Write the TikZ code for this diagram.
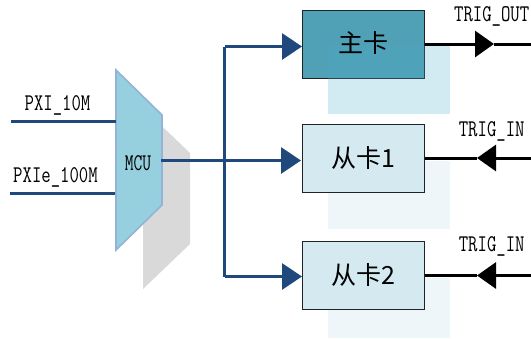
\documentclass[tikz,border=0pt]{standalone}
\usepackage{fontspec}
\usetikzlibrary{arrows.meta}
\newfontfamily\cjk{Noto Sans CJK SC}
\definecolor{navy}{HTML}{1F497D}
\definecolor{mcufill}{HTML}{96CFDE}
\definecolor{mcuedge}{HTML}{95B3D7}
\definecolor{teal}{HTML}{4BACC6}
\definecolor{mainfill}{HTML}{50A0B6}
\definecolor{subfill}{HTML}{D4E9F0}
\definecolor{ghostlight}{HTML}{EEF6F9}
\definecolor{edge}{HTML}{1C2426}
\tikzset{
 x=1pt,y=-1pt,
 card/.style={draw=edge,line width=1pt,minimum width=122pt,minimum height=68pt,inner sep=0pt},
 cardlabel/.style={font=\cjk\fontsize{25}{25}\selectfont,inner sep=0pt},
 siglabel/.style={font=\ttfamily\fontsize{24}{24}\selectfont,xscale=.76,inner sep=0pt,anchor=center},
 mculabel/.style={font=\ttfamily\fontsize{24}{24}\selectfont,xscale=.71,inner sep=0pt},
 bus/.style={draw=navy,line width=3.2pt},
 busarrow/.style={bus,-{Triangle[length=20pt 0 0,width=26pt 0 0,fill=navy]}},
 trig/.style={draw=black,line width=3pt},
 trigarrow/.style={trig,-{Triangle[length=19pt 0 0,width=26pt 0 0,fill=black]}},
 ghost/.style={fill=teal,draw=none},
 ghostsub/.style={fill=ghostlight,draw=none},
}
\begin{document}
\begin{tikzpicture}
\path[use as bounding box] (0,0) rectangle (531,338);
% grey shadow and MCU
\fill[black!15] (143,108) -- (190,153) -- (190,244) -- (143,289) -- cycle;
\draw[fill=mcufill,draw=mcuedge,line width=1.6pt] (116,70) -- (162,115) -- (162,205) -- (116,250) -- cycle;
\node[mculabel] (mcu) at (138,163) {MCU};
% cards
\fill[ghostsub] (328,161) rectangle (450,229);
\fill[ghostsub] (328,278) rectangle (450,338);
\node[card,fill=mainfill] (main) at (363,44) {};
\node[card,fill=subfill] (s1) at (363,158.7) {};
\node[card,fill=subfill] (s2) at (363,275.5) {};
\fill[ghost,opacity=.25] (328,46) rectangle (450,114);
\node[cardlabel] at (363,43) {主卡};
\node[cardlabel] at (363,158) {从卡1};
\node[cardlabel] at (363,275) {从卡2};
% inputs
\coordinate (pxia) at (11,121.5);
\coordinate (pxib) at (116,121.5);
\coordinate (pxea) at (10,193.5);
\coordinate (pxeb) at (115,193.5);
\draw[bus] (pxia) -- (pxib);
\draw[bus] (pxea) -- (pxeb);
\node[siglabel] (l1) at (57.5,105) {PXI\_10M};
\node[siglabel] (l2) at (55.5,177) {PXIe\_100M};
% bus
\coordinate (mout) at (161,160.5);
\coordinate (junc) at (224.5,160.5);
\coordinate (jt) at (224.5,46.5);
\coordinate (jb) at (224.5,276.5);
\coordinate (at) at (302,46.5);
\coordinate (am) at (301,160.5);
\coordinate (ab) at (302,276.5);
\draw[bus] (mout) -- (junc);
\draw[bus] (jb) -- (jt);
\draw[busarrow] (junc) -- (am);
\draw[busarrow] (jt) -- (at);
\draw[busarrow] (jb) -- (ab);
% trig lines
\coordinate (t0) at (494,44);
\coordinate (e0) at (531,44);
\coordinate (t1) at (477,158);
\coordinate (e1) at (531,158);
\coordinate (t2) at (477,275.5);
\coordinate (e2) at (531,275.5);
\draw[trigarrow] (main.east) -- (t0);
\draw[trig] (t0) -- (e0);
\draw[trig] (s1.east |- t1) -- (t1);
\draw[trigarrow] (e1) -- (t1);
\draw[trig] (s2.east |- t2) -- (t2);
\draw[trigarrow] (e2) -- (t2);
\node[siglabel] (l3) at (491.7,16) {TRIG\_OUT};
\node[siglabel] (l4) at (491.7,131) {TRIG\_IN};
\node[siglabel] (l5) at (491.7,246) {TRIG\_IN};
\end{tikzpicture}
\end{document}
